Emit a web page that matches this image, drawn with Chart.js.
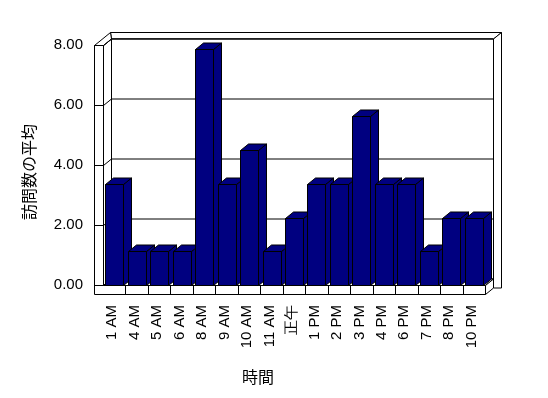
<!DOCTYPE html>
<html>
<head>
<meta charset="utf-8">
<script src="https://cdn.jsdelivr.net/npm/chart.js@4/dist/chart.umd.min.js"></script>
<style>
    html, body { margin: 0; padding: 0; background: #ffffff; }
    #wrap { width: 548px; height: 398px; }
</style>
</head>
<body>
<div id="wrap"><canvas id="chart"></canvas></div>
<script>
const hours = ['1 AM', '4 AM', '5 AM', '6 AM', '8 AM', '9 AM', '10 AM', '11 AM', '正午',
    '1 PM', '2 PM', '3 PM', '4 PM', '6 PM', '7 PM', '8 PM', '10 PM'];
const avgVisits = [3.375, 1.125, 1.125, 1.125, 7.875, 3.375, 4.5, 1.125, 2.25,
    3.375, 3.375, 5.625, 3.375, 3.375, 1.125, 2.25, 2.25];
const yTicks = [0, 2, 4, 6, 8];
const xTitle = '時間';
const yTitle = '訪問数の平均';

const depthX = 8;
const depthY = -6.5;
const wallThick = 9;
const barColor = '#000080';

function poly(ctx, pts, fill) {
    ctx.beginPath();
    ctx.moveTo(pts[0][0], pts[0][1]);
    for (let i = 1; i < pts.length; i++) ctx.lineTo(pts[i][0], pts[i][1]);
    ctx.closePath();
    ctx.fillStyle = fill;
    ctx.fill();
    ctx.stroke();
}

const walls3d = {
    id: 'walls3d',
    beforeDatasetsDraw(chart) {
        const ctx = chart.ctx;
        const {left: L, right: R, top: T, bottom: B} = chart.chartArea;
        const dx = depthX, dy = depthY, w = wallThick;
        ctx.save();
        ctx.strokeStyle = '#000000';
        ctx.lineWidth = 1;
        ctx.translate(0.5, 0.5);

        // back wall slab
        poly(ctx, [[L + dx, T + dy], [R + dx, T + dy], [R + 2 * dx, T + 2 * dy], [L - w + 2 * dx, T + 2 * dy]], '#ffffff');
        poly(ctx, [[R + dx, T + dy], [R + 2 * dx, T + 2 * dy], [R + 2 * dx, B + w + dy], [R + dx, B + w + dy]], '#ffffff');
        poly(ctx, [[L + dx, T + dy], [R + dx, T + dy], [R + dx, B + dy], [L + dx, B + dy]], '#ffffff');

        // left wall inner face and top
        poly(ctx, [[L, T], [L + dx, T + dy], [L + dx, B + dy], [L, B]], '#ffffff');
        poly(ctx, [[L - w, T], [L, T], [L + dx, T + dy], [L - w + 2 * dx, T + 2 * dy]], '#ffffff');

        // floor slab
        poly(ctx, [[L, B], [R, B], [R + dx, B + dy], [L + dx, B + dy]], '#ffffff');
        poly(ctx, [[R, B], [R + dx, B + dy], [R + dx, B + w + dy], [R, B + w]], '#ffffff');
        poly(ctx, [[L - w, T], [L, T], [L, B], [R, B], [R, B + w], [L - w, B + w]], '#ffffff');

        // gridlines: across wall front, along left wall, across back wall
        const yScale = chart.scales.y;
        yTicks.forEach(v => {
            const y = Math.round(yScale.getPixelForValue(v));
            ctx.beginPath();
            ctx.moveTo(L - w, y);
            ctx.lineTo(L, y);
            ctx.lineTo(L + dx, y + dy);
            if (v > 0) ctx.lineTo(R + dx, y + dy);
            ctx.stroke();
        });

        // category dividers on the floor front
        const xScale = chart.scales.x;
        for (let i = 0; i < hours.length - 1; i++) {
            const x = Math.round((xScale.getPixelForValue(i) + xScale.getPixelForValue(i + 1)) / 2);
            ctx.beginPath();
            ctx.moveTo(x, B);
            ctx.lineTo(x, B + w);
            ctx.stroke();
        }
        ctx.restore();
    },
    afterDatasetsDraw(chart) {
        const ctx = chart.ctx;
        const dx = depthX, dy = depthY;
        ctx.save();
        ctx.strokeStyle = '#000000';
        ctx.lineWidth = 1;
        ctx.translate(0.5, 0.5);
        chart.getDatasetMeta(0).data.forEach(bar => {
            const {x, y, base, width} = bar.getProps(['x', 'y', 'base', 'width'], true);
            const x0 = Math.round(x - width / 2), x1 = Math.round(x + width / 2);
            const yt = Math.round(y), yb = Math.round(base);
            poly(ctx, [[x1, yt], [x1 + dx, yt + dy], [x1 + dx, yb + dy], [x1, yb]], barColor);
            poly(ctx, [[x0, yt], [x1, yt], [x1 + dx, yt + dy], [x0 + dx, yt + dy]], barColor);
            poly(ctx, [[x0, yt], [x1, yt], [x1, yb], [x0, yb]], barColor);
        });
        ctx.restore();
    },
    afterDraw(chart) {
        const ctx = chart.ctx;
        ctx.save();
        ctx.fillStyle = '#000000';
        ctx.font = '16px "Noto Sans CJK JP"';
        ctx.textAlign = 'center';
        ctx.textBaseline = 'middle';
        ctx.fillText(xTitle, 258, 377);
        ctx.translate(29, 172);
        ctx.rotate(-Math.PI / 2);
        ctx.fillText(yTitle, 0, 0);
        ctx.restore();
    }
};

const ctx = document.getElementById('chart').getContext('2d');
new Chart(ctx, {
    type: 'bar',
    data: {
        labels: hours,
        datasets: [{
            data: avgVisits,
            backgroundColor: 'rgba(0,0,0,0)',
            borderWidth: 0,
            categoryPercentage: 1.0,
            barPercentage: 0.8
        }]
    },
    options: {
        responsive: true,
        maintainAspectRatio: false,
        animation: false,
        layout: {padding: {left: 0, top: 45, right: 63, bottom: 0}},
        plugins: {legend: {display: false}, tooltip: {enabled: false}},
        scales: {
            x: {
                grid: {display: false, drawTicks: false},
                border: {display: false},
                ticks: {
                    autoSkip: false,
                    minRotation: 90,
                    maxRotation: 90,
                    padding: 20,
                    labelOffset: -2,
                    color: '#000000',
                    font: {family: 'Liberation Sans', size: 15}
                },
                afterFit: scale => { scale.height = 113; }
            },
            y: {
                min: 0,
                max: 8,
                grid: {display: false, drawTicks: false},
                border: {display: false},
                ticks: {
                    stepSize: 2,
                    padding: 20,
                    color: '#000000',
                    font: {family: 'Liberation Sans', size: 15},
                    callback: v => v.toFixed(2)
                },
                afterFit: scale => { scale.width = 103; }
            }
        }
    },
    plugins: [walls3d]
});
</script>
</body>
</html>
